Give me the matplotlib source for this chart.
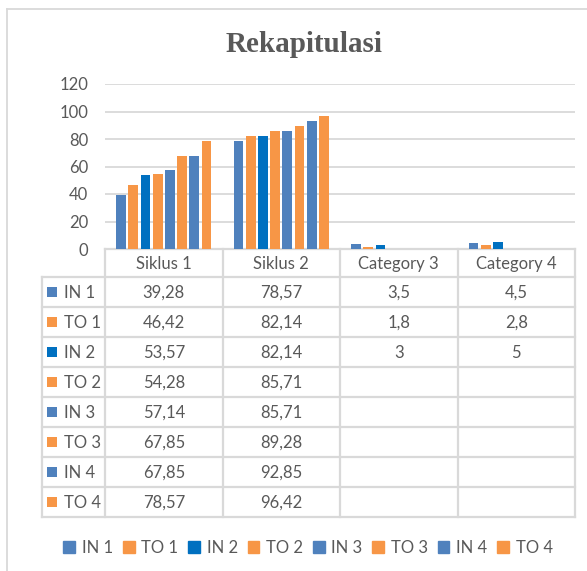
import matplotlib
matplotlib.use("Agg")
import matplotlib.pyplot as plt
from matplotlib.patches import Patch
import numpy as np

categories = ["Siklus 1", "Siklus 2", "Category 3", "Category 4"]
series_names = ["IN 1", "TO 1", "IN 2", "TO 2", "IN 3", "TO 3", "IN 4", "TO 4"]
in_1 = [39.28, 78.57, 3.5, 4.5]
to_1 = [46.42, 82.14, 1.8, 2.8]
in_2 = [53.57, 82.14, 3, 5]
to_2 = [54.28, 85.71, None, None]
in_3 = [57.14, 85.71, None, None]
to_3 = [67.85, 89.28, None, None]
in_4 = [67.85, 92.85, None, None]
to_4 = [78.57, 96.42, None, None]
all_series = [in_1, to_1, in_2, to_2, in_3, to_3, in_4, to_4]
y_ticks = [0, 20, 40, 60, 80, 100, 120]

blue = "#4F81BD"
orange = "#F79646"
dark_blue = "#0070C0"
colors = [blue, orange, dark_blue, orange, blue, orange, blue, orange]
text_col = "#595959"
line_col = "#D9D9D9"
font = "Lato"
fsize = 12

W, H = 587, 571
fig = plt.figure(figsize=(W / 100, H / 100), dpi=100)

def fx(px):
    return px / W

def fy(py):
    return (H - py) / H

# pixel layout
plot_left, plot_right = 105, 575
plot_top, plot_bottom = 84, 249
label_left = 42
header_h = 28
row_h = 30

# overlay for border + table
over = fig.add_axes([0, 0, 1, 1])
over.set_xlim(0, W)
over.set_ylim(H, 0)
over.axis("off")
over.plot([7, 7], [9, H], color=line_col, lw=1.3)
over.plot([7, W], [9, 9], color=line_col, lw=1.3)

ax = fig.add_axes([fx(plot_left), fy(plot_bottom), fx(plot_right) - fx(plot_left),
                   fy(plot_top) - fy(plot_bottom)])
n = len(all_series)
group_w = 0.83
slot = group_w / n
for i, (vals, c) in enumerate(zip(all_series, colors)):
    xs, hs = [], []
    for k, v in enumerate(vals):
        if v is None:
            continue
        xs.append(k + 0.5 - group_w / 2 + slot * (i + 0.5))
        hs.append(v)
    ax.bar(xs, hs, width=slot * 0.8, color=c, zorder=3)
ax.set_xlim(0, len(categories))
ax.set_ylim(0, 120)
ax.set_yticks(y_ticks)
ax.set_yticklabels([str(t) for t in y_ticks], fontsize=fsize, color=text_col, family=font)
ax.set_xticks([])
ax.tick_params(axis="y", length=0, pad=12)
ax.grid(axis="y", color=line_col, lw=1.3, zorder=0)
for s in ax.spines.values():
    s.set_visible(False)
ax.patch.set_alpha(0)

fig.text(fx(304), fy(44), "Rekapitulasi", ha="center", va="center",
         fontsize=21, fontweight="bold", color=text_col, family="Liberation Serif")

# data table
col_w = (plot_right - plot_left) / len(categories)
col_edges = [plot_left + k * col_w for k in range(len(categories) + 1)]
head_bot = plot_bottom + header_h
tab_bot = head_bot + row_h * n
lw_t = 1.6
over.plot([plot_left, plot_right], [plot_bottom, plot_bottom], color=line_col, lw=lw_t)
for r in range(n + 1):
    yy = head_bot + r * row_h
    over.plot([label_left, plot_right], [yy, yy], color=line_col, lw=lw_t)
over.plot([label_left, label_left], [head_bot, tab_bot], color=line_col, lw=lw_t)
for xe in col_edges:
    over.plot([xe, xe], [plot_bottom, tab_bot], color=line_col, lw=lw_t)

def fmt(v):
    return ("%g" % v).replace(".", ",")

for k, cat in enumerate(categories):
    over.text(col_edges[k] + col_w / 2, plot_bottom + header_h / 2 + 1, cat,
              ha="center", va="center", fontsize=fsize, color=text_col, family=font)
for r, (name, vals, c) in enumerate(zip(series_names, all_series, colors)):
    yc = head_bot + r * row_h + row_h / 2
    over.add_patch(plt.Rectangle((47, yc - 5), 10, 10, color=c, lw=0))
    over.text(64, yc + 1, name, ha="left", va="center", fontsize=fsize,
              color=text_col, family=font)
    for k, v in enumerate(vals):
        if v is None:
            continue
        over.text(col_edges[k] + col_w / 2, yc + 1, fmt(v), ha="center", va="center",
                  fontsize=fsize, color=text_col, family=font)

handles = [Patch(color=c, label=nm) for nm, c in zip(series_names, colors)]
fig.legend(handles=handles, loc="center", bbox_to_anchor=(fx(308), fy(548)), ncol=n,
           frameon=False, handlelength=0.7, handleheight=0.7, handletextpad=0.4,
           columnspacing=0.6, prop={"family": font, "size": fsize}, labelcolor=text_col)

fig.savefig("out.png", dpi=100)
